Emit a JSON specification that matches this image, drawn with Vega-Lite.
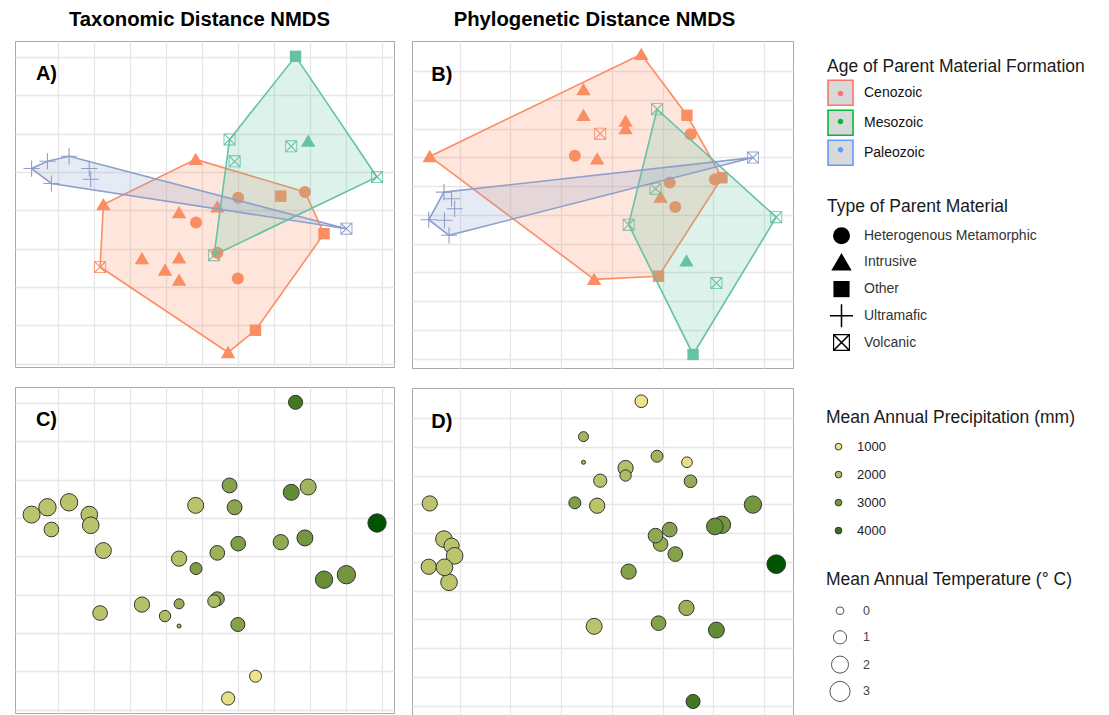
{
  "$schema": "https://vega.github.io/schema/vega-lite/v6.json",
  "padding": {"left": 14, "top": 9, "right": 0, "bottom": 0},
  "config": {
    "font": "Liberation Sans",
    "view": {"stroke": "#a8a8a8", "strokeWidth": 1},
    "axis": {"grid": true, "gridColor": "#e6e6e6", "gridWidth": 1.3, "labels": false, "ticks": false, "domain": false, "title": null},
    "legend": {"titleFontSize": 17.5, "titleFontWeight": "normal", "titleColor": "#1a1a1a", "labelFontSize": 13, "labelColor": "#222222", "titleLimit": 400, "labelLimit": 300, "gridAlign": "all"}
  },
  "datasets": {
    "tax": [
      {"x": 3.83, "y": 5.33, "age": "Cenozoic", "type": "Intrusive", "hull": 1, "precip": 1800, "temp": 1.7},
      {"x": 6.86, "y": 4.48, "age": "Cenozoic", "type": "Heterogenous Metamorphic", "hull": 2, "precip": 3000, "temp": 1.7},
      {"x": 7.39, "y": 3.39, "age": "Cenozoic", "type": "Other", "hull": 3, "precip": 3200, "temp": 2.1},
      {"x": 5.49, "y": 0.87, "age": "Cenozoic", "type": "Other", "hull": 4, "precip": 1000, "temp": 0.73},
      {"x": 4.73, "y": 0.29, "age": "Cenozoic", "type": "Intrusive", "hull": 5, "precip": 1100, "temp": 1.0},
      {"x": 1.18, "y": 2.52, "age": "Cenozoic", "type": "Volcanic", "hull": 6, "precip": 1800, "temp": 1.35},
      {"x": 1.27, "y": 4.15, "age": "Cenozoic", "type": "Intrusive", "hull": 7, "precip": 1800, "temp": 1.7},
      {"x": 5.01, "y": 4.33, "age": "Cenozoic", "type": "Heterogenous Metamorphic", "hull": null, "precip": 2800, "temp": 1.35},
      {"x": 6.19, "y": 4.37, "age": "Cenozoic", "type": "Other", "hull": null, "precip": 2500, "temp": 1.5},
      {"x": 3.37, "y": 3.94, "age": "Cenozoic", "type": "Intrusive", "hull": null, "precip": 1900, "temp": 1.5},
      {"x": 4.43, "y": 4.09, "age": "Cenozoic", "type": "Intrusive", "hull": null, "precip": 2300, "temp": 1.35},
      {"x": 3.84, "y": 3.68, "age": "Cenozoic", "type": "Heterogenous Metamorphic", "hull": null, "precip": 2800, "temp": 0.73},
      {"x": 4.43, "y": 2.89, "age": "Cenozoic", "type": "Heterogenous Metamorphic", "hull": null, "precip": 2600, "temp": 1.2},
      {"x": 2.34, "y": 2.74, "age": "Cenozoic", "type": "Intrusive", "hull": null, "precip": 1900, "temp": 1.5},
      {"x": 3.37, "y": 2.76, "age": "Cenozoic", "type": "Intrusive", "hull": null, "precip": 2400, "temp": 0.35},
      {"x": 2.98, "y": 2.44, "age": "Cenozoic", "type": "Intrusive", "hull": null, "precip": 2000, "temp": 0.6},
      {"x": 3.37, "y": 2.18, "age": "Cenozoic", "type": "Intrusive", "hull": null, "precip": 2200, "temp": -0.38},
      {"x": 5.00, "y": 2.22, "age": "Cenozoic", "type": "Heterogenous Metamorphic", "hull": null, "precip": 2700, "temp": 1.2},
      {"x": 6.60, "y": 8.02, "age": "Mesozoic", "type": "Other", "hull": 1, "precip": 3800, "temp": 1.2},
      {"x": 8.86, "y": 4.87, "age": "Mesozoic", "type": "Volcanic", "hull": 2, "precip": 4700, "temp": 2.4},
      {"x": 4.34, "y": 2.83, "age": "Mesozoic", "type": "Volcanic", "hull": 3, "precip": 2000, "temp": 0.88},
      {"x": 4.77, "y": 5.85, "age": "Mesozoic", "type": "Volcanic", "hull": 4, "precip": 2700, "temp": 1.4},
      {"x": 4.91, "y": 5.28, "age": "Mesozoic", "type": "Volcanic", "hull": null, "precip": 2600, "temp": 1.4},
      {"x": 6.48, "y": 5.67, "age": "Mesozoic", "type": "Volcanic", "hull": null, "precip": 3300, "temp": 1.7},
      {"x": 6.95, "y": 5.81, "age": "Mesozoic", "type": "Intrusive", "hull": null, "precip": 2200, "temp": 1.7},
      {"x": -0.72, "y": 5.09, "age": "Paleozoic", "type": "Ultramafic", "hull": 1, "precip": 1800, "temp": 2.0},
      {"x": -0.28, "y": 5.28, "age": "Paleozoic", "type": "Ultramafic", "hull": 2, "precip": 1800, "temp": 2.1},
      {"x": 0.32, "y": 5.41, "age": "Paleozoic", "type": "Ultramafic", "hull": 3, "precip": 1800, "temp": 2.1},
      {"x": 8.01, "y": 3.52, "age": "Paleozoic", "type": "Volcanic", "hull": 4, "precip": 3000, "temp": 2.4},
      {"x": -0.17, "y": 4.70, "age": "Paleozoic", "type": "Ultramafic", "hull": 5, "precip": 1800, "temp": 1.35},
      {"x": 0.88, "y": 5.09, "age": "Paleozoic", "type": "Ultramafic", "hull": null, "precip": 1850, "temp": 1.9},
      {"x": 0.92, "y": 4.81, "age": "Paleozoic", "type": "Ultramafic", "hull": null, "precip": 1800, "temp": 1.9}
    ],
    "phy": [
      {"x": 3.58, "y": 10.58, "age": "Cenozoic", "type": "Intrusive", "hull": 1, "precip": 1000, "temp": 0.88},
      {"x": 4.48, "y": 8.46, "age": "Cenozoic", "type": "Other", "hull": 2, "precip": 1100, "temp": 0.47},
      {"x": 5.17, "y": 6.29, "age": "Cenozoic", "type": "Other", "hull": 3, "precip": 3000, "temp": 2.1},
      {"x": 3.92, "y": 2.87, "age": "Cenozoic", "type": "Other", "hull": 4, "precip": 2700, "temp": 1.35},
      {"x": 2.65, "y": 2.76, "age": "Cenozoic", "type": "Intrusive", "hull": 5, "precip": 1800, "temp": 1.7},
      {"x": -0.59, "y": 7.03, "age": "Cenozoic", "type": "Intrusive", "hull": 6, "precip": 1800, "temp": 1.5},
      {"x": 2.44, "y": 9.35, "age": "Cenozoic", "type": "Intrusive", "hull": null, "precip": 2200, "temp": 0.35},
      {"x": 2.44, "y": 8.46, "age": "Cenozoic", "type": "Intrusive", "hull": null, "precip": 2200, "temp": -0.38},
      {"x": 3.27, "y": 8.26, "age": "Cenozoic", "type": "Intrusive", "hull": null, "precip": 1900, "temp": 1.5},
      {"x": 3.27, "y": 8.00, "age": "Cenozoic", "type": "Intrusive", "hull": null, "precip": 2000, "temp": 0.6},
      {"x": 2.77, "y": 7.82, "age": "Cenozoic", "type": "Volcanic", "hull": null, "precip": 1800, "temp": 1.0},
      {"x": 4.55, "y": 7.80, "age": "Cenozoic", "type": "Heterogenous Metamorphic", "hull": null, "precip": 2400, "temp": 0.88},
      {"x": 2.27, "y": 7.05, "age": "Cenozoic", "type": "Heterogenous Metamorphic", "hull": null, "precip": 2800, "temp": 0.73},
      {"x": 2.71, "y": 6.95, "age": "Cenozoic", "type": "Intrusive", "hull": null, "precip": 1800, "temp": 1.5},
      {"x": 4.14, "y": 6.12, "age": "Cenozoic", "type": "Heterogenous Metamorphic", "hull": null, "precip": 2700, "temp": 1.35},
      {"x": 5.03, "y": 6.23, "age": "Cenozoic", "type": "Heterogenous Metamorphic", "hull": null, "precip": 3200, "temp": 1.9},
      {"x": 3.96, "y": 5.62, "age": "Cenozoic", "type": "Intrusive", "hull": null, "precip": 2400, "temp": 1.35},
      {"x": 4.25, "y": 5.27, "age": "Cenozoic", "type": "Heterogenous Metamorphic", "hull": null, "precip": 2700, "temp": 1.35},
      {"x": 3.89, "y": 8.67, "age": "Mesozoic", "type": "Volcanic", "hull": 1, "precip": 2200, "temp": 0.73},
      {"x": 6.24, "y": 4.92, "age": "Mesozoic", "type": "Volcanic", "hull": 2, "precip": 4700, "temp": 2.5},
      {"x": 4.60, "y": 0.15, "age": "Mesozoic", "type": "Other", "hull": 3, "precip": 3800, "temp": 1.2},
      {"x": 3.33, "y": 4.66, "age": "Mesozoic", "type": "Volcanic", "hull": 4, "precip": 2700, "temp": 1.5},
      {"x": 3.86, "y": 5.91, "age": "Mesozoic", "type": "Volcanic", "hull": null, "precip": 2500, "temp": 1.35},
      {"x": 4.47, "y": 3.40, "age": "Mesozoic", "type": "Intrusive", "hull": null, "precip": 2300, "temp": 1.5},
      {"x": 5.06, "y": 2.63, "age": "Mesozoic", "type": "Volcanic", "hull": null, "precip": 3300, "temp": 1.7},
      {"x": -0.31, "y": 5.79, "age": "Paleozoic", "type": "Ultramafic", "hull": 1, "precip": 1800, "temp": 1.9},
      {"x": 5.78, "y": 6.99, "age": "Paleozoic", "type": "Volcanic", "hull": 2, "precip": 3000, "temp": 2.1},
      {"x": -0.21, "y": 4.29, "age": "Paleozoic", "type": "Ultramafic", "hull": 3, "precip": 1800, "temp": 1.9},
      {"x": -0.61, "y": 4.83, "age": "Paleozoic", "type": "Ultramafic", "hull": 4, "precip": 1800, "temp": 1.5},
      {"x": -0.16, "y": 5.56, "age": "Paleozoic", "type": "Ultramafic", "hull": null, "precip": 1800, "temp": 1.5},
      {"x": -0.10, "y": 5.21, "age": "Paleozoic", "type": "Ultramafic", "hull": null, "precip": 1800, "temp": 1.9},
      {"x": -0.30, "y": 4.81, "age": "Paleozoic", "type": "Ultramafic", "hull": null, "precip": 1800, "temp": 1.9}
    ]
  },
  "spacing": 16,
  "resolve": {"scale": {"color": "independent", "fill": "independent", "stroke": "independent", "shape": "independent", "size": "independent"}},
  "hconcat": [
    {
      "spacing": 18,
      "resolve": {"scale": {"color": "independent", "fill": "independent", "stroke": "independent", "shape": "independent", "size": "independent"}},
      "vconcat": [
        {
          "title": {"text": "Taxonomic Distance NMDS", "fontSize": 20.3, "fontWeight": "bold", "color": "#000000", "anchor": "middle", "frame": "group", "offset": 10.7, "dx": -5},
          "width": 379, "height": 326,
          "data": {"name": "tax"},
          "encoding": {
            "x": {"field": "x", "type": "quantitative", "scale": {"domain": [-1.18, 9.33], "nice": false, "zero": false}, "axis": {"values": [0, 1, 2, 3, 4, 5, 6, 7, 8, 9]}},
            "y": {"field": "y", "type": "quantitative", "scale": {"domain": [-0.09, 8.42], "nice": false, "zero": false}, "axis": {"values": [0, 1, 2, 3, 4, 5, 6, 7, 8]}}
          },
          "layer": [
            {
              "mark": {"type": "point", "filled": true, "opacity": 1, "size": 144, "strokeWidth": 0},
              "encoding": {
                "color": {"field": "age", "type": "nominal", "scale": {"domain": ["Cenozoic", "Mesozoic", "Paleozoic"], "range": ["#fc8d62", "#66c2a5", "#8da0cb"]}, "legend": null},
                "shape": {"field": "type", "type": "nominal", "scale": {"domain": ["Heterogenous Metamorphic", "Intrusive", "Other", "Ultramafic", "Volcanic"], "range": ["circle", "M0,-1.1L1.2,0.95L-1.2,0.95Z", "M-0.95,-0.95H0.95V0.95H-0.95Z", "M-1.35,-0.09H1.35V0.09H-1.35Z M-0.09,-1.35H0.09V1.35H-0.09Z", "M-1,-1H1V1H-1Z M-0.86,-0.86V0.86H0.86V-0.86Z M-0.86,-0.86L-0.73,-0.86L0.86,0.73L0.86,0.86L0.73,0.86L-0.86,-0.73Z M0.86,-0.73L-0.73,0.86L-0.86,0.86L-0.86,0.73L0.73,-0.86L0.86,-0.86Z"]}, "legend": null}
              }
            },
            {
              "transform": [{"filter": "datum.hull != null"}],
              "mark": {"type": "line", "interpolate": "linear-closed", "strokeWidth": 1.6, "fillOpacity": 0.22},
              "encoding": {
                "order": {"field": "hull", "type": "quantitative"},
                "color": {"field": "age", "type": "nominal", "scale": {"domain": ["Cenozoic", "Mesozoic", "Paleozoic"], "range": ["#fc8d62", "#66c2a5", "#8da0cb"]}, "legend": null},
                "fill": {"field": "age", "type": "nominal", "scale": {"domain": ["Cenozoic", "Mesozoic", "Paleozoic"], "range": ["#fc8d62", "#66c2a5", "#8da0cb"]}, "legend": null}
              }
            },
            {
              "transform": [{"filter": "datum.hull == 1 && datum.age == 'Cenozoic'"}],
              "mark": {"type": "text", "fontSize": 20, "fontWeight": "bold", "fill": "#000000", "align": "left", "baseline": "alphabetic"},
              "encoding": {"x": {"datum": -0.6}, "y": {"datum": 7.41}, "text": {"value": "A)"}}
            }
          ]
        },
        {
          "width": 379, "height": 326,
          "data": {"name": "tax"},
          "encoding": {
            "x": {"field": "x", "type": "quantitative", "scale": {"domain": [-1.18, 9.33], "nice": false, "zero": false}, "axis": {"values": [0, 1, 2, 3, 4, 5, 6, 7, 8, 9]}},
            "y": {"field": "y", "type": "quantitative", "scale": {"domain": [-0.09, 8.42], "nice": false, "zero": false}, "axis": {"values": [0, 1, 2, 3, 4, 5, 6, 7, 8]}}
          },
          "layer": [
            {
              "mark": {"type": "point", "filled": true, "opacity": 1, "shape": "circle", "stroke": "#333333", "strokeWidth": 1},
              "encoding": {
                "fill": {"field": "precip", "type": "quantitative", "scale": {"domain": [950, 4600], "range": ["#f0e68c", "#005a00"], "interpolate": "lab", "zero": false, "nice": false}, "legend": null},
                "size": {"field": "temp", "type": "quantitative", "scale": {"type": "linear", "domain": [0, 3], "range": [60, 405], "zero": false, "nice": false}, "legend": null}
              }
            },
            {
              "transform": [{"filter": "datum.hull == 1 && datum.age == 'Cenozoic'"}],
              "mark": {"type": "text", "fontSize": 20, "fontWeight": "bold", "fill": "#000000", "align": "left", "baseline": "alphabetic"},
              "encoding": {"x": {"datum": -0.6}, "y": {"datum": 7.41}, "text": {"value": "C)"}}
            }
          ]
        }
      ]
    },
    {
      "spacing": 18,
      "resolve": {"scale": {"color": "independent", "fill": "independent", "stroke": "independent", "shape": "independent", "size": "independent"}},
      "vconcat": [
        {
          "title": {"text": "Phylogenetic Distance NMDS", "fontSize": 20.3, "fontWeight": "bold", "color": "#000000", "anchor": "middle", "frame": "group", "offset": 10.7, "dx": -8},
          "width": 381, "height": 327,
          "data": {"name": "phy"},
          "resolve": {"scale": {"color": "independent", "stroke": "independent"}},
          "encoding": {
            "x": {"field": "x", "type": "quantitative", "scale": {"domain": [-0.94, 6.57], "nice": false, "zero": false}, "axis": {"values": [0, 1, 2, 3, 4, 5, 6]}},
            "y": {"field": "y", "type": "quantitative", "scale": {"domain": [-0.32, 11.04], "nice": false, "zero": false}, "axis": {"values": [0, 1, 2, 3, 4, 5, 6, 7, 8, 9, 10]}}
          },
          "layer": [
            {
              "mark": {"type": "point", "filled": true, "opacity": 1, "size": 144, "strokeWidth": 0},
              "encoding": {
                "color": {"field": "age", "type": "nominal", "scale": {"domain": ["Cenozoic", "Mesozoic", "Paleozoic"], "range": ["#fc8d62", "#66c2a5", "#8da0cb"]}, "legend": null},
                "shape": {"field": "type", "type": "nominal", "scale": {"domain": ["Heterogenous Metamorphic", "Intrusive", "Other", "Ultramafic", "Volcanic"], "range": ["circle", "M0,-1.1L1.2,0.95L-1.2,0.95Z", "M-0.95,-0.95H0.95V0.95H-0.95Z", "M-1.35,-0.09H1.35V0.09H-1.35Z M-0.09,-1.35H0.09V1.35H-0.09Z", "M-1,-1H1V1H-1Z M-0.86,-0.86V0.86H0.86V-0.86Z M-0.86,-0.86L-0.73,-0.86L0.86,0.73L0.86,0.86L0.73,0.86L-0.86,-0.73Z M0.86,-0.73L-0.73,0.86L-0.86,0.86L-0.86,0.73L0.73,-0.86L0.86,-0.86Z"]},
                  "legend": {"title": "Type of Parent Material", "orient": "none", "legendX": 415, "legendY": 156.7, "symbolSize": 289, "symbolFillColor": "#000000", "symbolStrokeWidth": 0, "symbolOffset": 6, "rowPadding": 3.7, "labelOffset": 14, "labelFontSize": 14, "labelColor": "#333333", "titlePadding": 12}}
              }
            },
            {
              "transform": [{"filter": "datum.hull != null"}],
              "mark": {"type": "line", "interpolate": "linear-closed", "strokeWidth": 1.6, "fillOpacity": 0.22},
              "encoding": {
                "order": {"field": "hull", "type": "quantitative"},
                "color": {"field": "age", "type": "nominal", "scale": {"domain": ["Cenozoic", "Mesozoic", "Paleozoic"], "range": ["#fc8d62", "#66c2a5", "#8da0cb"]}, "legend": null},
                "fill": {"field": "age", "type": "nominal", "scale": {"domain": ["Cenozoic", "Mesozoic", "Paleozoic"], "range": ["#fc8d62", "#66c2a5", "#8da0cb"]}, "legend": null}
              }
            },
            {
              "transform": [{"filter": "false"}],
              "mark": {"type": "point", "filled": false, "fill": "#d9d9d9", "opacity": 1, "strokeWidth": 1.6},
              "encoding": {
                "stroke": {"field": "age", "type": "nominal", "scale": {"domain": ["Cenozoic", "Mesozoic", "Paleozoic"], "range": ["#F8766D", "#00BA38", "#619CFF"]},
                  "legend": {"title": "Age of Parent Material Formation", "orient": "none", "legendX": 415, "legendY": 17, "symbolType": "square", "symbolSize": 625, "symbolStrokeWidth": 1.6, "symbolFillColor": "#d9d9d9", "rowPadding": -5.2, "labelOffset": 10, "labelFontSize": 14, "labelColor": "#111111", "titlePadding": 3.8, "zindex": 1}}
              }
            },
            {
              "data": {"name": "tax"},
              "transform": [{"filter": "false"}],
              "mark": {"type": "point", "filled": true, "opacity": 1},
              "encoding": {
                "color": {"field": "age", "type": "nominal", "scale": {"domain": ["Cenozoic", "Mesozoic", "Paleozoic"], "range": ["#F8766D", "#00BA38", "#619CFF"]},
                  "legend": {"title": null, "labelExpr": "''", "orient": "none", "legendX": 415, "legendY": 39, "symbolType": "M0.22,0A0.22,0.22,0,1,1,-0.22,0A0.22,0.22,0,1,1,0.22,0Z", "symbolSize": 625, "symbolStrokeWidth": 1.6, "symbolStrokeColor": "transparent", "rowPadding": 7.1, "labelOffset": 10, "labelFontSize": 14, "zindex": 2}}
              }
            },
            {
              "transform": [{"filter": "datum.hull == 1 && datum.age == 'Cenozoic'"}],
              "mark": {"type": "text", "fontSize": 20, "fontWeight": "bold", "fill": "#000000", "align": "left", "baseline": "alphabetic"},
              "encoding": {"x": {"datum": -0.56}, "y": {"datum": 9.65}, "text": {"value": "B)"}}
            }
          ]
        },
        {
          "width": 381, "height": 327,
          "data": {"name": "phy"},
          "encoding": {
            "x": {"field": "x", "type": "quantitative", "scale": {"domain": [-0.94, 6.57], "nice": false, "zero": false}, "axis": {"values": [0, 1, 2, 3, 4, 5, 6]}},
            "y": {"field": "y", "type": "quantitative", "scale": {"domain": [-0.32, 11.04], "nice": false, "zero": false}, "axis": {"values": [0, 1, 2, 3, 4, 5, 6, 7, 8, 9, 10]}}
          },
          "layer": [
            {
              "mark": {"type": "point", "filled": true, "opacity": 1, "shape": "circle", "stroke": "#333333", "strokeWidth": 1},
              "encoding": {
                "fill": {"field": "precip", "type": "quantitative", "scale": {"domain": [950, 4600], "range": ["#f0e68c", "#005a00"], "interpolate": "lab", "zero": false, "nice": false},
                  "legend": {"title": "Mean Annual Precipitation (mm)", "type": "symbol", "values": [1000, 2000, 3000, 4000], "format": "d", "orient": "none", "legendX": 414, "legendY": 20.8, "direction": "vertical", "symbolType": "circle", "symbolSize": 45, "symbolStrokeColor": "#333333", "symbolStrokeWidth": 1, "symbolOffset": 6, "rowPadding": 14, "labelOffset": 12, "labelFontSize": 13, "titlePadding": 13.8}},
                "size": {"field": "temp", "type": "quantitative", "scale": {"type": "linear", "domain": [0, 3], "range": [60, 405], "zero": false, "nice": false},
                  "legend": {"title": "Mean Annual Temperature (° C)", "values": [0, 1, 2, 3], "format": "d", "orient": "none", "legendX": 414, "legendY": 183.2, "symbolFillColor": "transparent", "symbolStrokeColor": "#555555", "symbolStrokeWidth": 1, "symbolOffset": 3, "rowPadding": -0.7, "labelOffset": 12, "labelFontSize": 12.5, "labelColor": "#444444", "titlePadding": 15.8}}
              }
            },
            {
              "transform": [{"filter": "datum.hull == 1 && datum.age == 'Cenozoic'"}],
              "mark": {"type": "text", "fontSize": 20, "fontWeight": "bold", "fill": "#000000", "align": "left", "baseline": "alphabetic"},
              "encoding": {"x": {"datum": -0.56}, "y": {"datum": 9.65}, "text": {"value": "D)"}}
            }
          ]
        }
      ]
    }
  ]
}
